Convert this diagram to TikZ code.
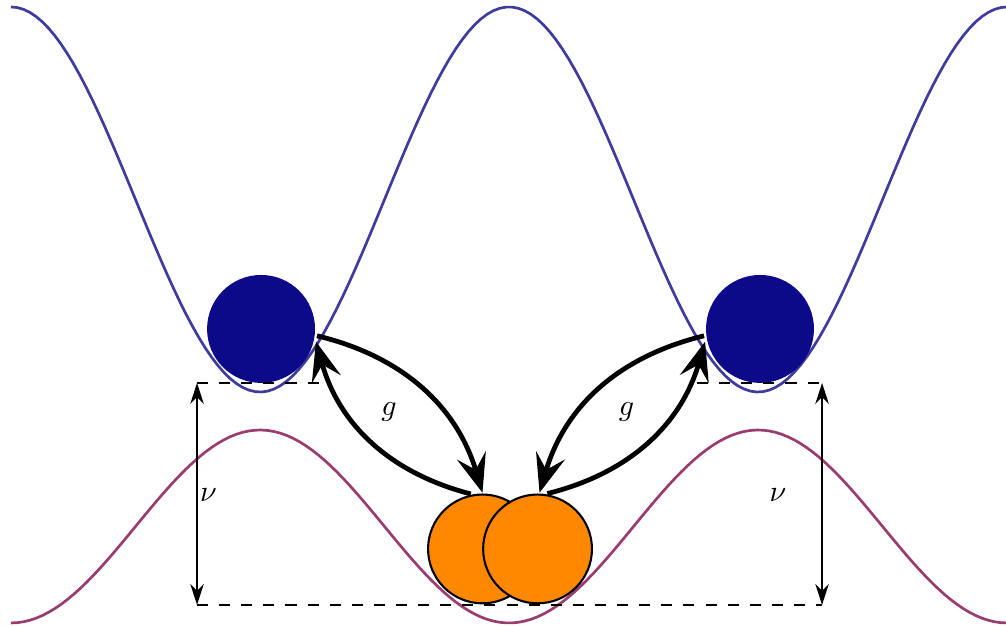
\documentclass[tikz,border=0pt]{standalone}
\usetikzlibrary{arrows.meta}

\definecolor{wellblue}{RGB}{62,60,158}
\definecolor{wellpurple}{RGB}{155,60,112}
\definecolor{atomblue}{RGB}{12,10,136}
\definecolor{atomorange}{RGB}{255,136,0}

\begin{document}
\begin{tikzpicture}[>=Stealth,
    potential/.style={line width=0.9pt,domain=0.129:11.85,samples=160},
    blueatom/.style={circle,fill=atomblue,minimum size=1.27cm,inner sep=0pt,outer sep=0.8pt},
    orangeatom/.style={circle,draw=black,line width=0.7pt,fill=atomorange,minimum size=1.28cm,inner sep=0pt,outer sep=0.6pt},
    levelline/.style={line width=0.75pt,dash pattern=on 3.7pt off 3.7pt},
    gaparrow/.style={line width=0.75pt,{Stealth[length=7pt,width=4.5pt]}-{Stealth[length=7pt,width=4.5pt]}},
    coupling/.style={line width=1.6pt,-{Stealth[length=13pt,width=10pt,inset=5pt]}}]
  \useasboundingbox (0,0) rectangle (11.835,7.376);

  % lattice potentials, period 5.859
  \draw[wellblue,potential] plot (\x,{5.029+2.265*cos(61.44*(\x-0.129))});
  \draw[wellpurple,potential] plot (\x,{1.182-1.135*cos(61.44*(\x-0.129))});

  \node[blueatom] (bL) at (3.071,3.506) {};
  \node[blueatom] (bR) at (8.941,3.506) {};
  \node[orangeatom] (oL) at (5.676,0.918) {};
  \node[orangeatom] (oR) at (6.324,0.918) {};

  \coordinate (topL) at (2.318,2.871);
  \coordinate (topLe) at (3.788,2.871);
  \coordinate (topRe) at (8.2,2.871);
  \coordinate (topR) at (9.671,2.871);
  \coordinate (botL) at (2.318,0.259);
  \coordinate (botR) at (9.671,0.259);

  \draw[levelline] (topL) -- (topLe);
  \draw[levelline] (topRe) -- (topR);
  \draw[levelline] (botL) -- (botR);
  \draw[gaparrow] (topL) -- (botL);
  \draw[gaparrow] (topR) -- (botR);
  \node (nuL) at (2.453,1.553) {$\nu$};
  \node (nuR) at (9.153,1.553) {$\nu$};

  \draw[coupling] (bL.-7) to[bend left=30] (oL.90);
  \draw[coupling] (oL.102) to[bend left=30] (bL.-13);
  \draw[coupling] (bR.187) to[bend right=30] (oR.88);
  \draw[coupling] (oR.80) to[bend right=30] (bR.193);
  \node (gL) at (4.576,2.529) {$g$};
  \node (gR) at (7.371,2.524) {$g$};
\end{tikzpicture}
\end{document}
